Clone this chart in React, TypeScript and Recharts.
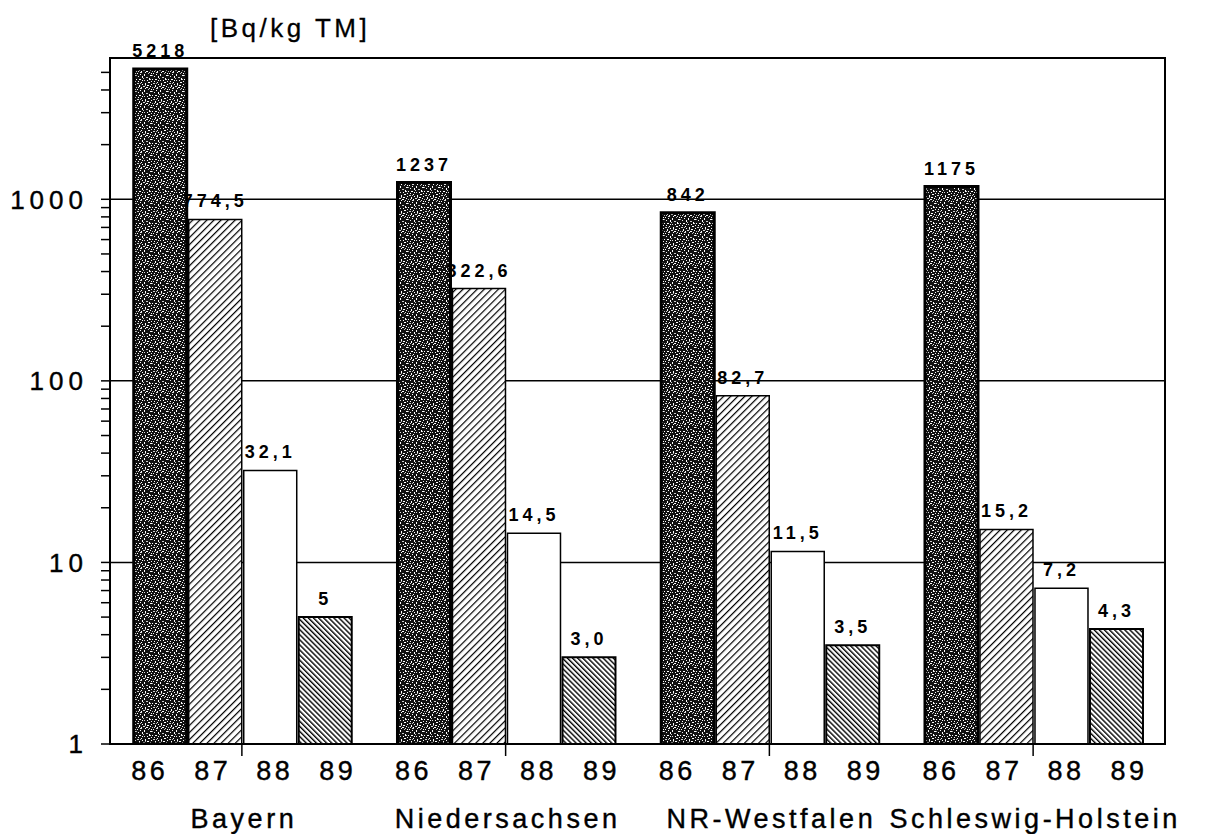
import React from "react";
import {
  BarChart,
  Bar,
  XAxis,
  YAxis,
  CartesianGrid,
  LabelList,
  ReferenceArea,
} from "recharts";

const regions = ["Bayern", "Niedersachsen", "NR-Westfalen", "Schleswig-Holstein"];
const years = ["86", "87", "88", "89"];
const values86 = [5218, 1237, 842, 1175];
const values87 = [774.5, 322.6, 82.7, 15.2];
const values88 = [32.1, 14.5, 11.5, 7.2];
const values89 = [5, 3.0, 3.5, 4.3];
const labels86 = ["5218", "1237", "842", "1175"];
const labels87 = ["774,5", "322,6", "82,7", "15,2"];
const labels88 = ["32,1", "14,5", "11,5", "7,2"];
const labels89 = ["5", "3,0", "3,5", "4,3"];
const majorTicks = [1, 10, 100, 1000];
const allTicks = [
  1, 2, 3, 4, 5, 6, 7, 8, 9,
  10, 20, 30, 40, 50, 60, 70, 80, 90,
  100, 200, 300, 400, 500, 600, 700, 800, 900,
  1000, 2000, 3000, 4000, 5000,
];
const gridValues = [10, 100, 1000];
const yDomain = [1, 6000];
const unitLabel = "[Bq/kg TM]";

const data = regions.map((region, i) => ({
  region,
  v86: values86[i],
  v87: values87[i],
  v88: values88[i],
  v89: values89[i],
  l86: labels86[i],
  l87: labels87[i],
  l88: labels88[i],
  l89: labels89[i],
}));

const FONT = "'Liberation Sans', Arial, Helvetica, sans-serif";

const specks: [number, number, number, number, string][] = [
  [1, 1, 1, 1, "#fff"], [4, 0, 2, 1, "#ddd"], [8, 2, 1, 2, "#fff"], [12, 1, 1, 1, "#bbb"],
  [14, 3, 2, 1, "#fff"], [2, 4, 1, 1, "#eee"], [6, 4, 1, 2, "#fff"], [10, 5, 2, 1, "#ccc"],
  [0, 7, 1, 1, "#fff"], [3, 7, 2, 1, "#fff"], [8, 8, 1, 1, "#ddd"], [13, 6, 1, 2, "#fff"],
  [5, 10, 1, 1, "#fff"], [1, 11, 2, 1, "#ccc"], [9, 11, 1, 2, "#fff"], [12, 10, 2, 1, "#fff"],
  [15, 9, 1, 1, "#eee"], [3, 13, 1, 2, "#fff"], [7, 14, 2, 1, "#ddd"], [11, 13, 1, 1, "#fff"],
  [14, 14, 1, 1, "#fff"], [0, 15, 1, 1, "#bbb"], [6, 12, 1, 1, "#fff"], [10, 15, 2, 1, "#fff"],
  [4, 2, 1, 1, "#fff"], [11, 8, 1, 1, "#fff"], [7, 6, 1, 1, "#ccc"], [15, 12, 1, 1, "#fff"],
  [2, 9, 1, 1, "#fff"], [13, 0, 1, 1, "#ddd"], [9, 0, 1, 1, "#fff"], [5, 15, 1, 1, "#fff"],
  [0, 3, 1, 1, "#aaa"], [6, 8, 1, 1, "#fff"], [14, 7, 1, 1, "#ccc"], [9, 13, 1, 1, "#aaa"],
  [12, 13, 1, 1, "#fff"], [2, 15, 1, 1, "#ddd"], [15, 1, 1, 1, "#fff"], [4, 11, 1, 1, "#bbb"],
];

const XTick = (props: any) => {
  const { x, y, payload } = props;
  const offsets = [-94, -31, 31, 94];
  return (
    <g>
      <text
        y={y + 24}
        fontFamily={FONT}
        fontSize={27}
        letterSpacing={3.5}
        fill="#000"
        stroke="#000"
        strokeWidth={0.4}
        textAnchor="middle"
      >
        {years.map((yr, i) => (
          <tspan key={yr} x={x + offsets[i] + 2}>
            {yr}
          </tspan>
        ))}
      </text>
      <text
        x={x + 2}
        y={y + 72}
        fontFamily={FONT}
        fontSize={27}
        letterSpacing={3.5}
        fill="#000"
        stroke="#000"
        strokeWidth={0.4}
        textAnchor="middle"
      >
        {payload.value}
      </text>
    </g>
  );
};

const labelStyle = {
  fontFamily: FONT,
  fontSize: 18,
  fontWeight: 700,
  letterSpacing: 4,
  fill: "#000",
};

export default function App() {
  return (
    <div style={{ width: 1190, height: 826 }}>
      <BarChart
        width={1190}
        height={826}
        data={data}
        margin={{ top: 50, right: 33, bottom: 0, left: 0 }}
        barCategoryGap="9%"
        barGap={2}
      >
        <defs>
          <pattern id="speck86" width="16" height="16" patternUnits="userSpaceOnUse">
            <rect x="0" y="0" width="16" height="16" fill="#111" />
            {specks.map(([sx, sy, sw, sh, c], i) => (
              <rect key={i} x={sx} y={sy} width={sw} height={sh} fill={c} />
            ))}
          </pattern>
          <pattern
            id="hatch87"
            width="5"
            height="5"
            patternUnits="userSpaceOnUse"
            patternTransform="rotate(45)"
          >
            <rect x="0" y="0" width="5" height="5" fill="#fff" />
            <line x1="0.6" y1="0" x2="0.6" y2="5" stroke="#000" strokeWidth="1.2" />
          </pattern>
          <pattern
            id="hatch89"
            width="3.6"
            height="3.6"
            patternUnits="userSpaceOnUse"
            patternTransform="rotate(-45)"
          >
            <rect x="0" y="0" width="3.6" height="3.6" fill="#fff" />
            <line x1="0.7" y1="0" x2="0.7" y2="3.6" stroke="#000" strokeWidth="1.4" />
          </pattern>
        </defs>
        <CartesianGrid
          horizontal
          vertical={false}
          horizontalValues={gridValues}
          stroke="#000"
          strokeWidth={1.5}
          syncWithTicks={false}
        />
        <XAxis
          dataKey="region"
          type="category"
          height={90}
          tickSize={12}
          tickMargin={0}
          tickLine={{ stroke: "#000", strokeWidth: 1.5 }}
          axisLine={{ stroke: "#000", strokeWidth: 2 }}
          tick={<XTick />}
          interval={0}
        />
        <YAxis
          type="number"
          scale="log"
          domain={yDomain}
          allowDataOverflow
          ticks={allTicks}
          interval={0}
          width={102}
          tickSize={9}
          tickMargin={13}
          tickLine={{ stroke: "#000", strokeWidth: 1.5 }}
          axisLine={{ stroke: "#000", strokeWidth: 2 }}
          tickFormatter={(v: number) => (majorTicks.includes(v) ? String(v) : "")}
          tick={{
            fontFamily: FONT,
            fontSize: 26,
            letterSpacing: 5,
            fill: "#000",
            stroke: "#000",
            strokeWidth: 0.4,
          }}
        />
        <ReferenceArea
          x1={regions[0]}
          x2={regions[regions.length - 1]}
          y1={yDomain[0]}
          y2={yDomain[1]}
          fill="none"
          fillOpacity={0}
          stroke="#000"
          strokeWidth={2}
          strokeOpacity={1}
          ifOverflow="visible"
        />
        <Bar dataKey="v86" fill="url(#speck86)" stroke="#000" strokeWidth={3} isAnimationActive={false}>
          <LabelList dataKey="l86" position="top" offset={12} style={labelStyle} />
        </Bar>
        <Bar dataKey="v87" fill="url(#hatch87)" stroke="#000" strokeWidth={1.5} isAnimationActive={false}>
          <LabelList dataKey="l87" position="top" offset={12} style={labelStyle} />
        </Bar>
        <Bar dataKey="v88" fill="#fff" stroke="#000" strokeWidth={1.5} isAnimationActive={false}>
          <LabelList dataKey="l88" position="top" offset={12} style={labelStyle} />
        </Bar>
        <Bar dataKey="v89" fill="url(#hatch89)" stroke="#000" strokeWidth={2} isAnimationActive={false}>
          <LabelList dataKey="l89" position="top" offset={12} style={labelStyle} />
        </Bar>
        <text
          x={202}
          y={29}
          fontFamily={FONT}
          fontSize={26}
          letterSpacing={3.5}
          fill="#000"
          stroke="#000"
          strokeWidth={0.3}
        >
          {unitLabel}
        </text>
      </BarChart>
    </div>
  );
}
